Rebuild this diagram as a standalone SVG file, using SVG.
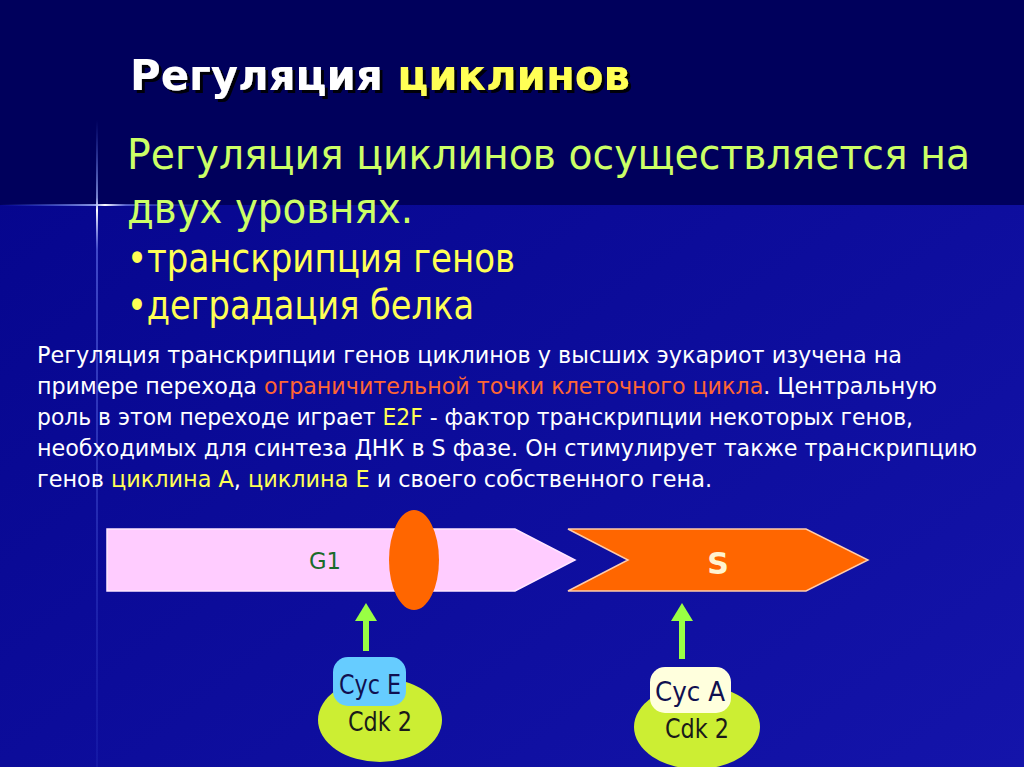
<svg xmlns="http://www.w3.org/2000/svg" width="1024" height="767" viewBox="0 0 1024 767">
<defs>
<linearGradient id="bgLow" x1="0" y1="0" x2="1" y2="1">
<stop offset="0" stop-color="#04048a"/>
<stop offset="1" stop-color="#1414aa"/>
</linearGradient>
<linearGradient id="flareH" x1="0" y1="0" x2="1" y2="0">
<stop offset="0" stop-color="#4466ff" stop-opacity="0"/>
<stop offset="0.45" stop-color="#aabbff" stop-opacity="0.8"/>
<stop offset="0.5" stop-color="#ffffff" stop-opacity="1"/>
<stop offset="0.6" stop-color="#8899ff" stop-opacity="0.6"/>
<stop offset="1" stop-color="#4466ff" stop-opacity="0"/>
</linearGradient>
<linearGradient id="flareV" x1="0" y1="0" x2="0" y2="1">
<stop offset="0" stop-color="#5577ff" stop-opacity="0"/>
<stop offset="0.12" stop-color="#aabbff" stop-opacity="0.7"/>
<stop offset="0.14" stop-color="#ffffff" stop-opacity="1"/>
<stop offset="0.2" stop-color="#7788ff" stop-opacity="0.5"/>
<stop offset="1" stop-color="#3344cc" stop-opacity="0.2"/>
</linearGradient>
<filter id="shadow" x="-5%" y="-20%" width="110%" height="140%">
<feDropShadow dx="3" dy="3" stdDeviation="0.5" flood-color="#000000" flood-opacity="0.9"/>
</filter>
<marker id="greenHead" viewBox="0 0 18 22" refX="0" refY="11" markerWidth="18" markerHeight="22" markerUnits="userSpaceOnUse" orient="auto">
<path d="M0,0 L18,11 L0,22 Z" fill="#99ff44"/>
</marker>
</defs>
<style>
.title{font-family:"DejaVu Sans","Liberation Sans",sans-serif;font-weight:bold;font-size:42px}
.big{font-family:"DejaVu Sans Condensed","DejaVu Sans","Liberation Sans",sans-serif;font-size:43px}
.bul{font-family:"DejaVu Sans Condensed","DejaVu Sans","Liberation Sans",sans-serif;font-size:40px}
.para{font-family:"DejaVu Sans Condensed","DejaVu Sans","Liberation Sans",sans-serif;font-size:23px;fill:#ffffff}
.lbl{font-family:"DejaVu Sans Condensed","DejaVu Sans","Liberation Sans",sans-serif;font-size:26px;text-anchor:middle}
.orange{fill:#ff6633}
.yel{fill:#ffff55}
.conn{stroke:#99ff44;stroke-width:6;fill:none}
</style>
<rect x="0" y="0" width="1024" height="767" fill="url(#bgLow)"/>
<rect x="0" y="0" width="1024" height="205" fill="#00005c"/>
<rect x="96" y="120" width="2" height="647" fill="url(#flareV)"/>
<rect x="0" y="204" width="210" height="2" fill="url(#flareH)"/>

<g id="title">
<text class="title" x="130" y="90" textLength="500" lengthAdjust="spacingAndGlyphs" filter="url(#shadow)"><tspan fill="#ffffff">Регуляция</tspan><tspan fill="#ffff55"> циклинов</tspan></text>
</g>

<g id="intro">
<text class="big" x="127" y="169" fill="#ccff66" textLength="843" lengthAdjust="spacingAndGlyphs">Регуляция циклинов осуществляется на</text>
<text class="big" x="127" y="223" fill="#ccff66" textLength="286" lengthAdjust="spacingAndGlyphs">двух уровнях.</text>
<text class="bul" x="127" y="272" fill="#ffff55" textLength="388" lengthAdjust="spacingAndGlyphs">•транскрипция генов</text>
<text class="bul" x="127" y="319" fill="#ffff55" textLength="347" lengthAdjust="spacingAndGlyphs">•деградация белка</text>
</g>

<g id="paragraph">
<text class="para" x="37" y="363" textLength="865" lengthAdjust="spacingAndGlyphs">Регуляция транскрипции генов циклинов у высших эукариот изучена на</text>
<text class="para" x="37" y="394" textLength="900" lengthAdjust="spacingAndGlyphs">примере перехода <tspan class="orange">ограничительной точки клеточного цикла</tspan>. Центральную</text>
<text class="para" x="37" y="425" textLength="876" lengthAdjust="spacingAndGlyphs">роль в этом переходе играет <tspan class="yel">E2F</tspan> - фактор транскрипции некоторых генов,</text>
<text class="para" x="37" y="456" textLength="940" lengthAdjust="spacingAndGlyphs">необходимых для синтеза ДНК в S фазе. Он стимулирует также транскрипцию</text>
<text class="para" x="37" y="487" textLength="675" lengthAdjust="spacingAndGlyphs">генов <tspan class="yel">циклина А</tspan>, <tspan class="yel">циклина Е</tspan> и своего собственного гена.</text>
</g>

<g id="g1-phase">
<path d="M107,529 L515,529 L575,560 L515,591 L107,591 Z" fill="#ffccff" stroke="#ffe6ff" stroke-width="1.5"/>
<text x="325" y="569" font-family="DejaVu Sans Condensed,DejaVu Sans,sans-serif" font-size="23" fill="#1a6b2a" text-anchor="middle" textLength="32" lengthAdjust="spacingAndGlyphs">G1</text>
</g>

<g id="restriction-point">
<ellipse cx="414" cy="560" rx="25" ry="50" fill="#ff6600"/>
</g>

<g id="s-phase">
<path d="M568,529 L806,529 L868,560 L806,591 L568,591 L628,560 Z" fill="#ff6600" stroke="#ffccaa" stroke-width="1.5"/>
<text x="718" y="574" font-family="DejaVu Sans,sans-serif" font-weight="bold" font-size="30" fill="#fff4d0" text-anchor="middle">S</text>
</g>

<g id="connectors">
<line class="conn" x1="366" y1="651" x2="366" y2="621" marker-end="url(#greenHead)"/>
<line class="conn" x1="682" y1="659" x2="682" y2="621" marker-end="url(#greenHead)"/>
</g>

<g id="cyclinE-cdk2">
<ellipse cx="380" cy="720" rx="62" ry="42" fill="#ccee33"/>
<rect x="333" y="657" width="73" height="49" rx="15" fill="#66ccff"/>
<text class="lbl" x="370" y="694" fill="#101050" textLength="62" lengthAdjust="spacingAndGlyphs">Cyc E</text>
<text class="lbl" x="380" y="731" fill="#1a1a1a" textLength="64" lengthAdjust="spacingAndGlyphs">Cdk 2</text>
</g>

<g id="cyclinA-cdk2">
<ellipse cx="697" cy="727" rx="63" ry="42" fill="#ccee33"/>
<rect x="650" y="667" width="81" height="46" rx="15" fill="#ffffdd"/>
<text class="lbl" x="690" y="701" fill="#101050" textLength="70" lengthAdjust="spacingAndGlyphs">Cyc A</text>
<text class="lbl" x="697" y="738" fill="#1a1a1a" textLength="64" lengthAdjust="spacingAndGlyphs">Cdk 2</text>
</g>
</svg>
